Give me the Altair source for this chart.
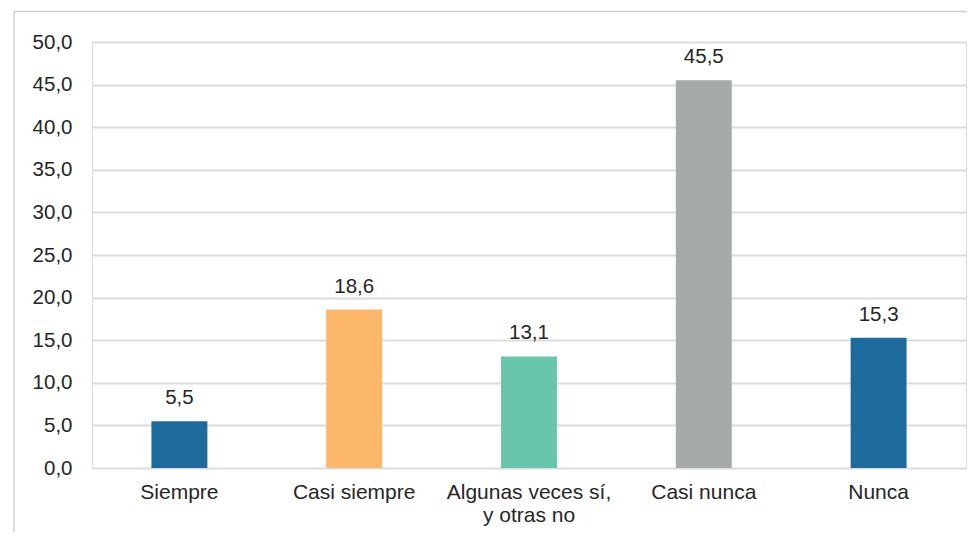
import altair as alt
import pandas as pd

categories = ["Siempre", "Casi siempre", "Algunas veces sí,\ny otras no", "Casi nunca", "Nunca"]
values = [5.5, 18.6, 13.1, 45.5, 15.3]
colors = ["#1c6b9c", "#fdb76a", "#68c7ab", "#a7aaab", "#1c6b9c"]
y_ticks = [0, 5, 10, 15, 20, 25, 30, 35, 40, 45, 50]

df = pd.DataFrame({"cat": categories, "val": values, "col": colors})

FONT = "Liberation Sans"
TXT = "#262626"

x_enc = alt.X("cat:N", sort=categories, title=None,
              scale=alt.Scale(paddingInner=0.68, paddingOuter=0.34),
              axis=alt.Axis(labelAngle=0, labelFontSize=21, labelFont=FONT, labelColor=TXT,
                            labelPadding=13, labelLineHeight=23, ticks=False, domain=False,
                            labelExpr="split(datum.label, '\\n')", grid=False))
y_enc = alt.Y("val:Q", title=None,
              scale=alt.Scale(domain=[0, 50], nice=False),
              axis=alt.Axis(values=y_ticks, labelFontSize=20.5, labelFont=FONT, labelColor=TXT,
                            labelPadding=20, ticks=False, domain=False,
                            gridColor="#dcdcdc", gridWidth=2,
                            labelExpr="replace(format(datum.value, '.1f'), '.', ',')"))

bars = alt.Chart(df).mark_bar().encode(
    x=x_enc, y=y_enc, color=alt.Color("col:N", scale=None)
)
labels = alt.Chart(df).transform_calculate(
    lab="replace(format(datum.val, '.1f'), '.', ',')"
).mark_text(baseline="bottom", dy=-13, fontSize=20.5, font=FONT, color=TXT).encode(
    x=alt.X("cat:N", sort=categories), y="val:Q", text="lab:N"
)

border_data = alt.Data(values=[{"a": 1}])
top_rule = alt.Chart(border_data).mark_rule(color="#cfcfcf", strokeWidth=1.5).encode(
    x=alt.value(-78), x2=alt.value(880), y=alt.value(-30.5)
)
left_rule = alt.Chart(border_data).mark_rule(color="#cfcfcf", strokeWidth=1.5).encode(
    x=alt.value(-78), y=alt.value(-30.5), y2=alt.value(520)
)

chart = alt.layer(bars, labels, top_rule, left_rule).properties(
    width=874, height=426,
    autosize=alt.AutoSizeParams(type="none"),
    padding={"left": 84, "top": 34, "right": 1, "bottom": 64},
).configure_view(stroke=None).configure(background="white")

chart.save("out.html", embed_options={"renderer": "svg", "actions": False})
